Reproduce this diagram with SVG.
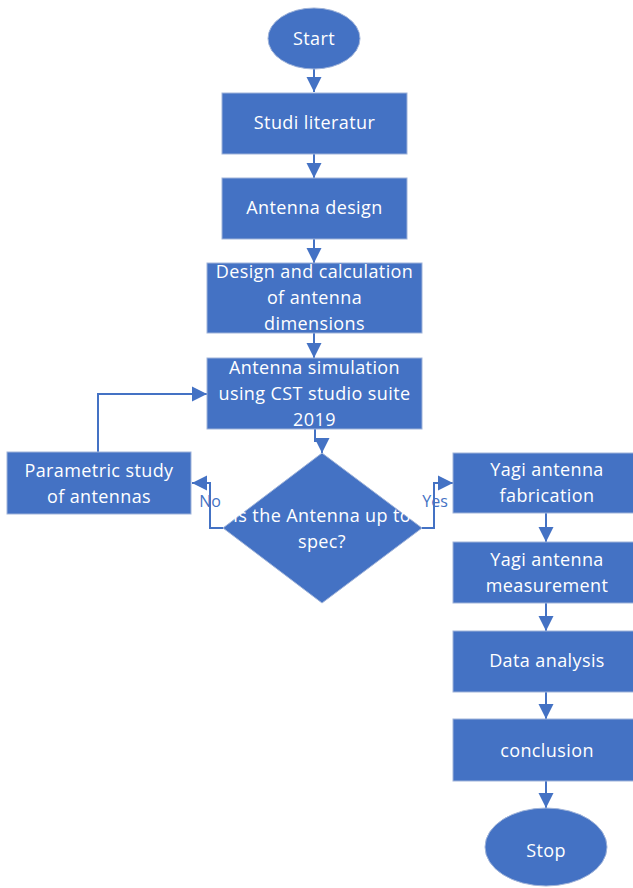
<svg xmlns="http://www.w3.org/2000/svg" width="633" height="888" viewBox="0 0 633 888">
<style>
.n{fill:#4472C4;stroke:#9fb3d9;stroke-width:1}
.t{font-family:"Open Sans","Noto Sans",sans-serif;font-size:18px;letter-spacing:0.4px;fill:#ffffff;text-anchor:middle}
.l{font-family:"Open Sans","Noto Sans",sans-serif;font-size:16px;fill:#4472C4;text-anchor:middle}
.c{fill:none;stroke:#4472C4;stroke-width:2}
</style>
<defs>
<marker id="a" markerUnits="userSpaceOnUse" markerWidth="16" markerHeight="16" viewBox="0 0 16 16" refX="15" refY="8" orient="auto">
<path d="M0,0.5 L15,8 L0,15.5 Z" fill="#4472C4"/>
</marker>
</defs>
<rect width="633" height="888" fill="#ffffff"/>
<g id="connectors">
<path class="c" d="M314,69 V92" marker-end="url(#a)"/>
<path class="c" d="M314,154 V178" marker-end="url(#a)"/>
<path class="c" d="M314,239 V263" marker-end="url(#a)"/>
<path class="c" d="M314,333 V358" marker-end="url(#a)"/>
<path class="c" d="M315,429 V441 H322 V453" marker-end="url(#a)"/>
<path class="c" d="M223,528 H210 V483 H192" marker-end="url(#a)"/>
<path class="c" d="M98,452 V394 H207" marker-end="url(#a)"/>
<path class="c" d="M422,528 H434 V483 H453" marker-end="url(#a)"/>
<path class="c" d="M546,513 V542" marker-end="url(#a)"/>
<path class="c" d="M546,603 V631" marker-end="url(#a)"/>
<path class="c" d="M546,692 V719" marker-end="url(#a)"/>
<path class="c" d="M546,781 V808" marker-end="url(#a)"/>
<text class="l" x="210" y="507">No</text>
<text class="l" x="435" y="507">Yes</text>
</g>
<g id="start"><ellipse class="n" cx="314" cy="38.5" rx="46" ry="30.5"/><text class="t" x="314" y="45">Start</text></g>
<g id="studi"><rect class="n" x="222" y="93" width="185" height="61"/><text class="t" x="314.5" y="129">Studi literatur</text></g>
<g id="design"><rect class="n" x="222" y="178" width="185" height="61"/><text class="t" x="314.5" y="214">Antenna design</text></g>
<g id="calc"><rect class="n" x="207" y="263" width="215" height="70"/><text class="t" x="314.5" y="278">Design and calculation</text><text class="t" x="314.5" y="304">of antenna</text><text class="t" x="314.5" y="330">dimensions</text></g>
<g id="sim"><rect class="n" x="207" y="358" width="215" height="71"/><text class="t" x="314.5" y="374">Antenna simulation</text><text class="t" x="314.5" y="400">using CST studio suite</text><text class="t" x="314.5" y="426">2019</text></g>
<g id="decision"><path class="n" d="M322,453 L422,528 L322,603 L223,528 Z"/><text class="t" x="322" y="522">Is the Antenna up to</text><text class="t" x="322" y="548">spec?</text></g>
<g id="param"><rect class="n" x="7" y="452" width="184" height="62"/><text class="t" x="99" y="477">Parametric study</text><text class="t" x="99" y="503">of antennas</text></g>
<g id="fab"><rect class="n" x="453" y="453" width="186" height="60"/><text class="t" x="547" y="476">Yagi antenna</text><text class="t" x="547" y="502">fabrication</text></g>
<g id="meas"><rect class="n" x="453" y="542" width="186" height="61"/><text class="t" x="547" y="566">Yagi antenna</text><text class="t" x="547" y="592">measurement</text></g>
<g id="data"><rect class="n" x="453" y="631" width="186" height="61"/><text class="t" x="547" y="667">Data analysis</text></g>
<g id="concl"><rect class="n" x="453" y="719" width="186" height="62"/><text class="t" x="547" y="757">conclusion</text></g>
<g id="stop"><ellipse class="n" cx="546" cy="847" rx="61" ry="39"/><text class="t" x="546" y="857">Stop</text></g>
</svg>
